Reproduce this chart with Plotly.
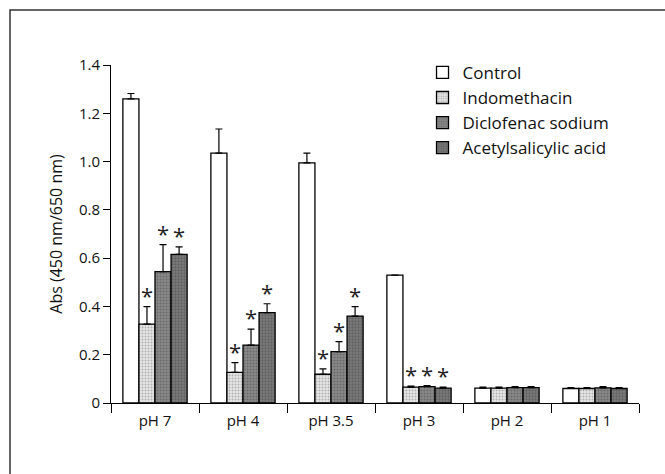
import plotly.graph_objects as go

categories = ["pH 7", "pH 4", "pH 3.5", "pH 3", "pH 2", "pH 1"]
series_names = ["Control", "Indomethacin", "Diclofenac sodium", "Acetylsalicylic acid"]

control = [1.26, 1.035, 0.995, 0.530, 0.062, 0.060]
control_err = [0.022, 0.100, 0.040, 0.000, 0.004, 0.004]
indomethacin = [0.327, 0.127, 0.119, 0.066, 0.062, 0.060]
indomethacin_err = [0.072, 0.040, 0.022, 0.004, 0.004, 0.004]
diclofenac = [0.544, 0.240, 0.213, 0.068, 0.064, 0.063]
diclofenac_err = [0.112, 0.066, 0.041, 0.004, 0.004, 0.005]
acetylsalicylic = [0.616, 0.374, 0.360, 0.062, 0.064, 0.060]
acetylsalicylic_err = [0.031, 0.037, 0.039, 0.004, 0.004, 0.004]

# significance markers (1 = asterisk)
sig_indomethacin = [1, 1, 1, 1, 0, 0]
sig_diclofenac = [1, 1, 1, 1, 0, 0]
sig_acetylsalicylic = [1, 1, 1, 1, 0, 0]

y_ticks = [0, 0.2, 0.4, 0.6, 0.8, 1.0, 1.2, 1.4]
y_ticktext = ["0", "0.2", "0.4", "0.6", "0.8", "1.0", "1.2", "1.4"]

values = [control, indomethacin, diclofenac, acetylsalicylic]
errors = [control_err, indomethacin_err, diclofenac_err, acetylsalicylic_err]
sigs = [None, sig_indomethacin, sig_diclofenac, sig_acetylsalicylic]

styles = [
    dict(color="white", pattern=None),
    dict(color="#e6e6e6", pattern=dict(shape=".", fgcolor="#7a7a7a", bgcolor="#e6e6e6", size=3, solidity=0.35)),
    dict(color="#8a8a8a", pattern=dict(shape=".", fgcolor="#4a4a4a", bgcolor="#8a8a8a", size=3, solidity=0.4)),
    dict(color="#7c7c7c", pattern=dict(shape=".", fgcolor="#444444", bgcolor="#7c7c7c", size=3, solidity=0.45)),
]

W, H = 665, 474
ml, mr, mt, mb = 111, 26, 65, 71
bargap = 0.27

fig = go.Figure()
for name, v, e, st in zip(series_names, values, errors, styles):
    marker = dict(color=st["color"], line=dict(color="black", width=1.3))
    if st["pattern"] is not None:
        marker["pattern"] = st["pattern"]
    fig.add_trace(go.Bar(
        name=name, x=categories, y=v, marker=marker,
        error_y=dict(type="data", array=e, arrayminus=[0] * len(e), symmetric=False,
                     color="black", thickness=1.2, width=3.5),
    ))

# asterisks
plot_w = W - ml - mr
cat_px = plot_w / len(categories)
bar_px = cat_px * (1 - bargap) / len(series_names)
annotations = []
for i, (v, e, s) in enumerate(zip(values, errors, sigs)):
    if s is None:
        continue
    shift = (i - (len(series_names) - 1) / 2) * bar_px
    for c, val, err, flag in zip(categories, v, e, s):
        if flag:
            annotations.append(dict(
                x=c, y=val + err, xref="x", yref="y", text="*", showarrow=False,
                xshift=shift, yshift=12, yanchor="middle",
                font=dict(family="Open Sans", size=22, color="#222"),
            ))

fig.update_layout(
    width=W, height=H,
    margin=dict(l=ml, r=mr, t=mt, b=mb),
    paper_bgcolor="white", plot_bgcolor="white",
    barmode="group", bargap=bargap, bargroupgap=0,
    font=dict(family="Open Sans", color="#111", size=15),
    showlegend=True,
    legend=dict(x=0.59, y=1.03, xanchor="left", yanchor="top",
                font=dict(size=17, color="#111"), bgcolor="rgba(0,0,0,0)",
                tracegroupgap=0, itemwidth=30),
    annotations=annotations,
    shapes=[dict(type="rect", xref="paper", yref="paper",
                 x0=(10 - ml) / plot_w, x1=1.2,
                 y0=-0.5, y1=(H - mb - 10) / (H - mt - mb),
                 line=dict(color="#333", width=1.5), layer="below")],
)
fig.update_xaxes(
    type="category", showline=True, linecolor="black", linewidth=1,
    ticks="outside", tickson="boundaries", ticklen=9, tickcolor="black", tickwidth=1,
    showgrid=False, tickfont=dict(size=15), ticklabelstandoff=4,
)
fig.update_yaxes(
    range=[0, 1.4], tickvals=y_ticks, ticktext=y_ticktext,
    showline=True, linecolor="black", linewidth=1,
    ticks="outside", ticklen=7, tickcolor="black", tickwidth=1,
    showgrid=False, zeroline=False, tickfont=dict(size=15),
    title=dict(text="Abs (450 nm/650 nm)", font=dict(size=16), standoff=12),
)

fig.write_html("out.html")
